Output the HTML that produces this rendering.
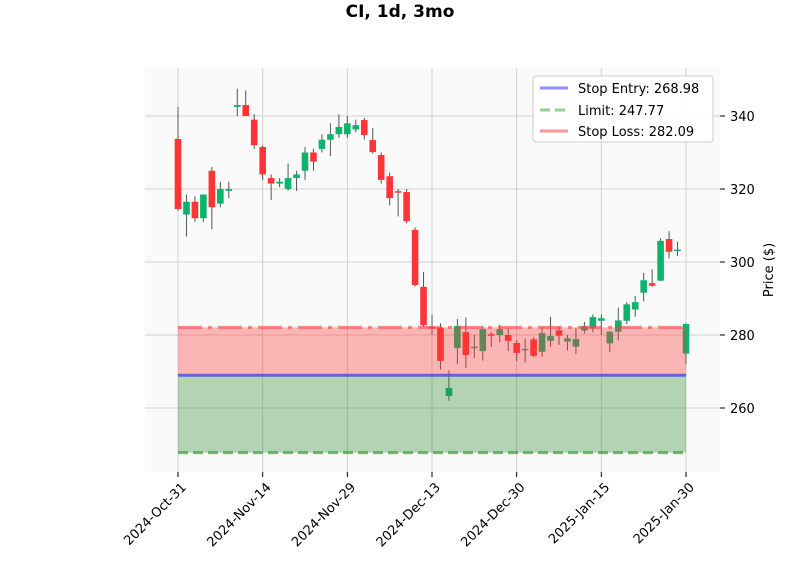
<!DOCTYPE html>
<html><head><meta charset="utf-8"><style>
body{margin:0;background:#fff;}
svg{display:block;font-family:"DejaVu Sans","Liberation Sans",sans-serif;}
</style></head><body>
<svg id="chart" width="800" height="575">
<text x="400" y="17" text-anchor="middle" font-size="17" font-weight="bold">CI, 1d, 3mo</text>
<rect x="145" y="68" width="575" height="404" fill="#fafafa"/>
<g id="grid"></g><g id="candles"></g><g id="levels"></g><g id="axes"></g>
<text transform="translate(773,270) rotate(-90)" text-anchor="middle" font-size="13">Price ($)</text>
<g>
<rect x="533" y="76" width="180" height="66" fill="#fff" fill-opacity="0.85" stroke="#ccc" rx="3"/>
<line x1="540" y1="88" x2="568" y2="88" stroke="#7070ff" stroke-opacity="0.8" stroke-width="3"/>
<text x="578" y="93" font-size="13">Stop Entry: 268.98</text>
<line x1="540" y1="110" x2="568" y2="110" stroke="#4caf50" stroke-opacity="0.6" stroke-width="3" stroke-dasharray="10,5"/>
<text x="578" y="115" font-size="13">Limit: 247.77</text>
<line x1="540" y1="131" x2="568" y2="131" stroke="#ff5050" stroke-opacity="0.6" stroke-width="3"/>
<text x="578" y="136" font-size="13">Stop Loss: 282.09</text>
</g>
</svg>
<script>
const opens=[333.7,313,316.5,312,325,316,319.5,342.5,343,339,331.5,323,321.5,320,323,325,330,331,333.5,335,335,336.3,338.9,333.4,329.3,323.5,319.4,319.2,308.8,293.2,282.2,282,263.3,276.4,280.8,276.4,275.6,280.2,280,280,277.8,275.8,278.8,275.4,278.4,281.3,278.2,276.8,281.2,281.8,283.9,277.7,280.9,283.9,287,291.6,294.2,294.9,306.3,303.2,274.9];
const closes=[314.5,316.5,312,318.5,315,320,320,343,340,332,324,321.5,322,323,324,330,327.5,333.5,335,337,338,337.5,334.8,330.1,322.5,317.5,319,311.2,293.7,282.7,281.8,272.9,265.5,282.5,274.5,276.8,281.6,280,281.6,278.4,275.1,276.2,274.3,280.5,279.7,279.8,279.1,278.9,282.4,284.9,284.6,280.9,284,288.4,289,295,293.5,305.8,302.8,303.4,283];
const highs=[342.5,318.5,318,318.5,326,322,322,347.5,347,340.5,332,324,323,327,325,331.5,331,335,338,340.5,340,339,339.5,336.7,330,324.5,320,320,309.5,297.3,285.5,283.2,270.3,284.4,284.8,280,282.5,280.8,282.8,281.7,278.6,279,279.4,282.2,285,282.2,280,282,283.6,285.6,285.6,281,287.5,289,290.7,297,298,306.5,308.4,305.5,283.2];
const lows=[314,307,311,311,309,315,317.5,340,340,331,322.5,317,320.5,319.5,319.5,322.5,325,330,329,334,334,335.5,333.5,329.7,321.5,315.5,312.5,310.6,293.3,282.3,280,270.5,262,272,271,273.7,273,276.7,278,275.6,272.8,272.5,274,274,276.8,277.3,275.8,274.8,280.4,280.8,280,275.4,278.5,283,285,289.2,293.2,294.8,301,301.6,272];
const yTicks=[260,280,300,320,340];
const xTickIdx=[0,10,20,30,40,50,60];
const xTickLabels=["2024-Oct-31","2024-Nov-14","2024-Nov-29","2024-Dec-13","2024-Dec-30","2025-Jan-15","2025-Jan-30"];
const stopEntry=268.98, limit=247.77, stopLoss=282.09;
const NS="http://www.w3.org/2000/svg";
const X=i=>178+i*(508/60);
const Y=v=>335-(v-280)*3.65;
function mk(tag,attrs,parent){const e=document.createElementNS(NS,tag);for(const k in attrs)e.setAttribute(k,attrs[k]);document.getElementById(parent).appendChild(e);return e;}
yTicks.forEach(t=>{
 const l=mk('line',{x1:145,x2:720,y1:Y(t),y2:Y(t),stroke:'#d0d0d0','stroke-width':1},'grid');
 
 
 const tk=mk('line',{x1:720,x2:725,y1:Y(t),y2:Y(t),stroke:'#000'},'axes');
 
 
 const tx=mk('text',{x:730,y:Y(t)+5,'font-size':13},'axes');tx.textContent=t;
 
 
});
xTickIdx.forEach((i,k)=>{
 const l=mk('line',{x1:X(i),x2:X(i),y1:68,y2:472,stroke:'#d0d0d0','stroke-width':1},'grid');
 
 
 const tk=mk('line',{x1:X(i),x2:X(i),y1:472,y2:477,stroke:'#000'},'axes');
 
 
 const tx=mk('text',{transform:`translate(${X(i)+9},${488}) rotate(-45)`,'text-anchor':'end','font-size':13},'axes');tx.textContent=xTickLabels[k];
 
 
});
opens.forEach((o,i)=>{
 const c=closes[i],up=c>=o,col=up?'#0db36a':'#ff3535';
 const w=mk('line',{x1:X(i),x2:X(i),y1:Y(highs[i]),y2:Y(lows[i]),stroke:'#555','stroke-width':1},'candles');
 
 
 const top=Y(Math.max(o,c)),h=Math.max(1.5,Math.abs(Y(o)-Y(c)));
 const b=mk('rect',{x:X(i)-3.3,y:top,width:6.6,height:h,fill:col},'candles');
 
 
});
const x0=X(0),x1=X(60);
const rf=mk('rect',{x:x0,y:Y(stopLoss),width:x1-x0,height:Y(stopEntry)-Y(stopLoss),fill:'#f33',opacity:0.35},'levels');


const gf=mk('rect',{x:x0,y:Y(stopEntry),width:x1-x0,height:Y(limit)-Y(stopEntry),fill:'#2e8b2e',opacity:0.35},'levels');


const sl=mk('line',{x1:x0,x2:x1,y1:Y(stopLoss),y2:Y(stopLoss),stroke:'#ff4040','stroke-opacity':0.6,'stroke-width':3,'stroke-dasharray':'24,6,4,6'},'levels');


const li=mk('line',{x1:x0,x2:x1,y1:Y(limit),y2:Y(limit),stroke:'#3c9a3c','stroke-opacity':0.7,'stroke-width':3,'stroke-dasharray':'10,5'},'levels');


const se=mk('line',{x1:x0,x2:x1,y1:Y(stopEntry),y2:Y(stopEntry),stroke:'#5050e0','stroke-opacity':0.85,'stroke-width':3},'levels');


</script>
</body></html>
